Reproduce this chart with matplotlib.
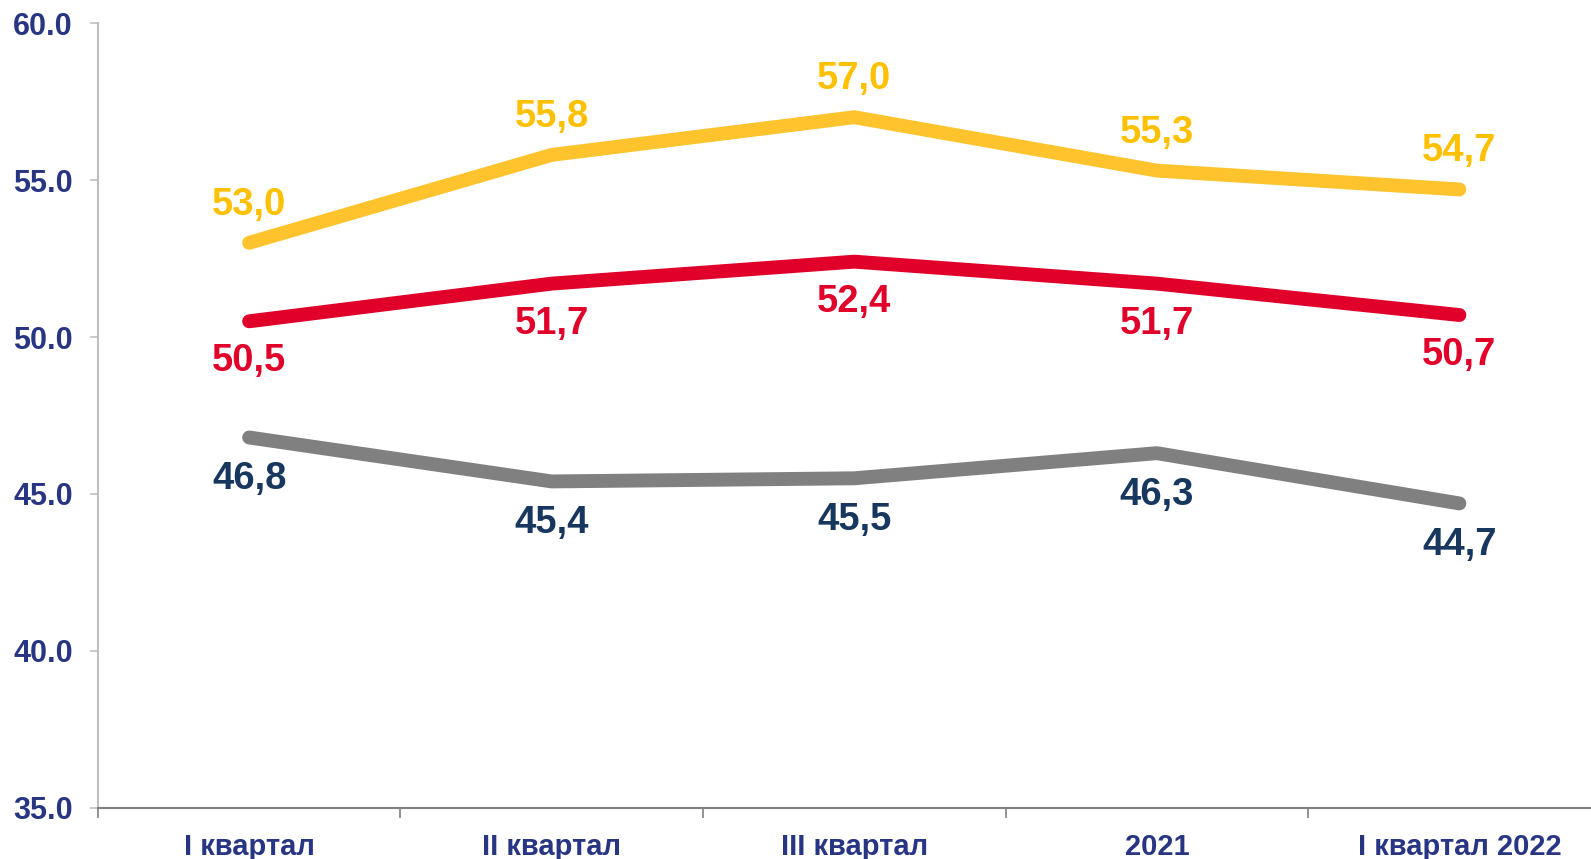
import matplotlib.pyplot as plt
import numpy as np

plt.rcParams['font.family'] = ['Liberation Sans', 'DejaVu Sans']

# data
categories = ['I квартал', 'II квартал', 'III квартал', '2021', 'I квартал 2022']
series_top = [53.0, 55.8, 57.0, 55.3, 54.7]
series_mid = [50.5, 51.7, 52.4, 51.7, 50.7]
series_low = [46.8, 45.4, 45.5, 46.3, 44.7]

navy = '#283583'
x = np.arange(len(categories))

fig = plt.figure(figsize=(15.91, 8.59), dpi=100)
ax = fig.add_axes([0.0615, 0.0594, 0.9385, 0.9138])

# линии: (значения, цвет линии, цвет подписи, смещение подписи в пикселях)
lines = [
    (series_top, '#FFC32D', '#FFC000', 38),
    (series_mid, '#E0002A', '#E0002A', -40),
    (series_low, '#808080', '#17375E', -42),
]
for vals, lc, tc, dy in lines:
    ax.plot(x, vals, color=lc, linewidth=10, solid_capstyle='round', solid_joinstyle='round')
    for xi, v in zip(x, vals):
        ax.annotate(f'{v:.1f}'.replace('.', ','), (xi, v), xytext=(0, dy * 0.72),
                    textcoords='offset points', ha='center', va='center',
                    fontsize=27.5, fontweight='bold', color=tc)

ax.set_yticks([35, 40, 45, 50, 55, 60])
ax.set_yticklabels([f'{t:.1f}' for t in [35, 40, 45, 50, 55, 60]])
ax.set_xticks(x)
ax.set_xticklabels(categories)
ax.set_xticks(np.arange(-0.5, 4, 1), minor=True)
# пределы ставим после тиков, иначе set_xticks их расширяет
ax.set_ylim(35, 60)
ax.set_xlim(-0.5, 4.435)

ax.tick_params(axis='x', which='major', length=0, pad=18, labelsize=21, labelcolor=navy)
ax.tick_params(axis='x', which='minor', length=7, color='#808080', width=1.2)
ax.tick_params(axis='y', length=6, color='#BFBFBF', width=1.2, pad=12, labelsize=22, labelcolor=navy)
for lbl in ax.get_xticklabels() + ax.get_yticklabels():
    lbl.set_fontweight('bold')

ax.spines['top'].set_visible(False)
ax.spines['right'].set_visible(False)
ax.spines['left'].set_color('#BFBFBF')
ax.spines['left'].set_linewidth(1.5)
ax.spines['bottom'].set_color('#808080')
ax.spines['bottom'].set_linewidth(1.5)

fig.savefig('out.png', dpi=100)
